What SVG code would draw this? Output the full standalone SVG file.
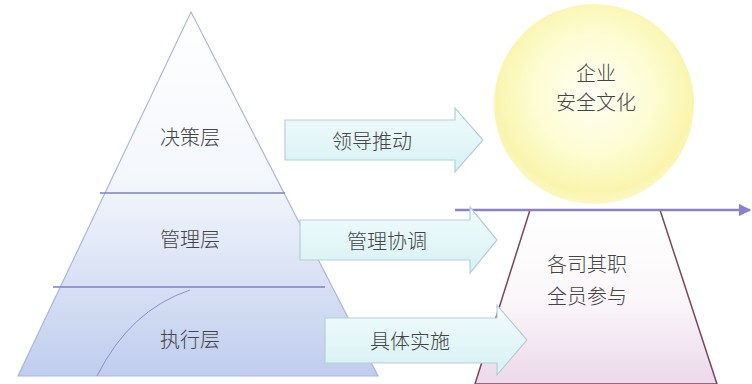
<svg xmlns="http://www.w3.org/2000/svg" width="752" height="384" viewBox="0 0 752 384">
<defs>
<linearGradient id="pyr" x1="0" y1="0" x2="0" y2="1">
<stop offset="0" stop-color="#ffffff"/>
<stop offset="0.45" stop-color="#f4f7fc"/>
<stop offset="0.7" stop-color="#dce4f5"/>
<stop offset="1" stop-color="#bfcdee"/>
</linearGradient>
<linearGradient id="arr" x1="0" y1="0" x2="0" y2="1">
<stop offset="0" stop-color="#f2fbfc"/>
<stop offset="1" stop-color="#d6f1f4"/>
</linearGradient>
<radialGradient id="sun" cx="0.5" cy="0.45" r="0.55">
<stop offset="0" stop-color="#fffff6"/>
<stop offset="0.55" stop-color="#fdfcd2"/>
<stop offset="0.9" stop-color="#f9f5ad"/>
<stop offset="1" stop-color="#fbf8c4"/>
</radialGradient>
<linearGradient id="trap" x1="0" y1="0" x2="0" y2="1">
<stop offset="0" stop-color="#ffffff"/>
<stop offset="0.5" stop-color="#fbf7fa"/>
<stop offset="1" stop-color="#ecd8ea"/>
</linearGradient>
<marker id="ah" viewBox="0 0 10 10" refX="9" refY="5" markerWidth="5" markerHeight="5" orient="auto" markerUnits="strokeWidth">
<path d="M0,0 L10,5 L0,10 Z" fill="#8c80cc"/>
</marker>
</defs>
<style>
text{font-family:"Noto Sans CJK SC","Noto Sans CJK TC",sans-serif;fill:#444;text-anchor:middle;dominant-baseline:central;font-weight:300}
.lbl{font-size:20px}
.a{fill:url(#arr);stroke:#b4cfd9;stroke-width:1.2}
</style>
<rect width="752" height="384" fill="#ffffff"/>
<g id="pyramid">
<polygon points="191,12 378,376 18,376" fill="url(#pyr)" stroke="#aeb5de" stroke-width="1.2"/>
<line x1="100" y1="193" x2="285" y2="193" stroke="#7f7fc4" stroke-width="1.5"/>
<line x1="53" y1="287" x2="325" y2="287" stroke="#7f7fc4" stroke-width="1.5"/>
<path d="M97,376 Q130,310 190,290" fill="none" stroke="#8a90cc" stroke-width="1"/>
<text class="lbl" x="190" y="136">决策层</text>
<text class="lbl" x="190" y="238">管理层</text>
<text class="lbl" x="190" y="338">执行层</text>
</g>
<g id="culture">
<circle cx="594" cy="104" r="100" fill="url(#sun)"/>
<text class="lbl" x="596" y="72">企业</text>
<text class="lbl" x="596" y="101">安全文化</text>
</g>
<g id="base">
<polygon points="530,210 660,210 717,384 475,384" fill="url(#trap)" stroke="#7a4658" stroke-width="1.5"/>
<text class="lbl" x="587" y="263">各司其职</text>
<text class="lbl" x="587" y="295">全员参与</text>
</g>
<g id="connectors">
<line x1="455" y1="210" x2="750" y2="210" stroke="#8c80cc" stroke-width="2.5" marker-end="url(#ah)"/>
<g id="arrow1">
<polygon class="a" points="285,120 455,120 455,108 483,140 455,172 455,160 285,160"/>
<text class="lbl" x="372" y="140">领导推动</text>
</g>
<g id="arrow2">
<polygon class="a" points="300,220 470,220 470,207 497,240 470,273 470,260 300,260"/>
<text class="lbl" x="387" y="240">管理协调</text>
</g>
<g id="arrow3">
<polygon class="a" points="325,318 497,318 497,305 527,340 497,375 497,363 325,363"/>
<text class="lbl" x="410" y="340">具体实施</text>
</g>
</g>
</svg>
